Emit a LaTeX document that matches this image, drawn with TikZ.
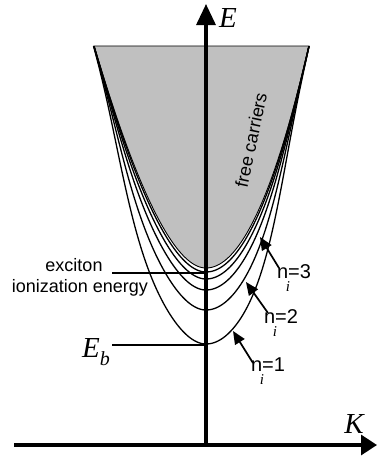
\documentclass[tikz,border=0pt]{standalone}
\usepackage{fontspec}
\setmainfont{Liberation Sans}
\newfontfamily\tms{Liberation Serif}
\usetikzlibrary{arrows.meta}
\definecolor{fillgray}{RGB}{192,192,192}
\newcommand{\subi}{\rlap{\raisebox{-0.62em}{\hspace{-0.12em}\fontsize{15}{15}\selectfont\tms\itshape i}}}
\tikzset{
  declare function={
    dL(\t)=6.15*\t+0.0917*\t*\t;
    dR(\t)=6.91*\t;
    gL(\d)=exp(-(\d/90)^6);
    gR(\d)=exp(-(\d/80)^6);
  },
  curve/.style={line width=1.3pt},
  axisline/.style={line width=3.2pt},
  pointer/.style={line width=1.7pt,-{Triangle[length=13pt,width=11pt]}},
  lab/.style={font=\fontsize{18}{20}\selectfont, inner sep=0pt},
  nlab/.style={font=\fontsize{20}{20}\selectfont, inner sep=0pt},
  sym/.style={font=\tms\itshape\fontsize{29}{30}\selectfont, inner sep=0pt},
}
\begin{document}
\begin{tikzpicture}[x=1pt,y=-1pt]
\useasboundingbox (0,0) rectangle (377,458);
% continuum (free carriers)
\fill[fillgray, draw=black, line width=0.9pt]
  plot[domain=14.9:0, samples=60, variable=\t] ({206-dL(\t)},{268-\t*\t})
  -- plot[domain=0:14.9, samples=60, variable=\t] ({206+dR(\t)},{268-\t*\t}) -- cycle;
% exciton bands
\begin{scope}
\clip (0,46) rectangle (377,458);
\foreach \D in {4,11,22,42,76}{
  \draw[curve]
    plot[domain=15.6:0, samples=80, variable=\t] ({206-dL(\t)},{268-\t*\t+\D*gL(dL(\t))})
    -- plot[domain=0:15.6, samples=80, variable=\t] ({206+dR(\t)},{268-\t*\t+\D*gR(dR(\t))});
}
\end{scope}
% axes
\coordinate (o) at (206,445);
\coordinate (etop) at (206,4);
\coordinate (kleft) at (14,445);
\coordinate (kright) at (377,445);
\draw[axisline,-{Triangle[length=21pt,width=19pt]}] (o) -- (etop);
\draw[axisline,-{Triangle[length=16pt,width=20pt]}] (kleft) -- (kright);
\node[sym] (E) at (228,18) {E};
\node[sym] (K) at (354,424) {K};
% level markers
\coordinate (ion0) at (112,273);
\coordinate (ion1) at (206,273);
\coordinate (eb0) at (112,345);
\coordinate (eb1) at (206,345);
\draw[line width=1.4pt] (ion0) -- (ion1);
\draw[line width=1.4pt] (eb0) -- (eb1);
\node[lab] (exc) at (74,265) {exciton};
\node[lab] (ion) at (80,288) {ionization energy};
\node[sym, anchor=east] (Eb) at (110,352) {E\raisebox{-0.25em}{\fontsize{20}{20}\selectfont b}};
% free carriers label
\node[lab, rotate=78] (fc) at (251,140) {free carriers};
% n_i labels and arrows
\coordinate (t3) at (260,237); \coordinate (s3) at (279,268);
\coordinate (t2) at (246,282); \coordinate (s2) at (268,313);
\coordinate (t1) at (233,331); \coordinate (s1) at (253,363);
\draw[pointer] (s3) -- (t3);
\draw[pointer] (s2) -- (t2);
\draw[pointer] (s1) -- (t1);
\node[nlab] (n3) at (294,278) {n\subi=3};
\node[nlab] (n2) at (281,323) {n\subi=2};
\node[nlab] (n1) at (268,371) {n\subi=1};
\end{tikzpicture}
\end{document}
